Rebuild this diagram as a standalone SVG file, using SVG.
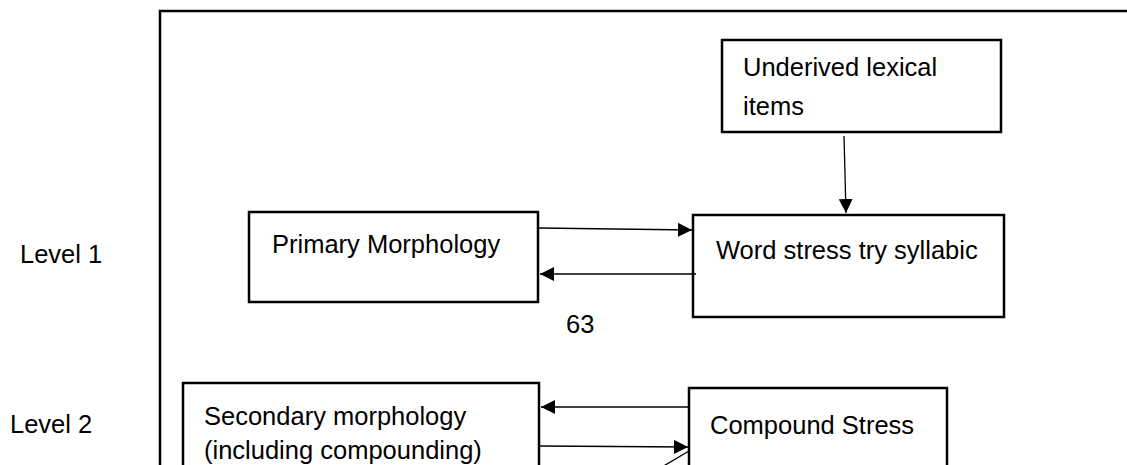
<svg xmlns="http://www.w3.org/2000/svg" width="1127" height="465" viewBox="0 0 1127 465">
<style>
.box{fill:#fff;stroke:#000;stroke-width:2.5}
.t{font-family:"Liberation Sans",Arial,sans-serif;font-size:25.5px;fill:#000}
.c{stroke:#000;stroke-width:1.3;fill:none}
</style>
<defs>
<marker id="ahb" viewBox="0 0 10 10" refX="10" refY="5" markerWidth="14" markerHeight="14" markerUnits="userSpaceOnUse" orient="auto">
<path d="M0,0 L10,5 L0,10 Z" fill="#000"/>
</marker>
</defs>
<rect width="1127" height="465" fill="#fff"/>
<g id="frame">
<path d="M160,470 L160,11 L1130,11" fill="none" stroke="#000" stroke-width="2.5"/>
</g>
<g id="labels">
<text class="t" x="20" y="263">Level 1</text>
<text class="t" x="10" y="433">Level 2</text>
<text class="t" x="566" y="333">63</text>
</g>
<g id="underived">
<rect class="box" x="722" y="40" width="279" height="92"/>
<text class="t" x="743" y="76">Underived lexical</text>
<text class="t" x="743" y="115">items</text>
</g>
<g id="primary">
<rect class="box" x="249" y="212" width="289" height="90"/>
<text class="t" x="272" y="253">Primary Morphology</text>
</g>
<g id="wordstress">
<rect class="box" x="693" y="215" width="311" height="102"/>
<text class="t" x="716" y="259">Word stress try syllabic</text>
</g>
<g id="secondary">
<rect class="box" x="183" y="383" width="356" height="100"/>
<text class="t" x="204" y="425">Secondary morphology</text>
<text class="t" x="204" y="459">(including compounding)</text>
</g>
<g id="compound">
<rect class="box" x="689" y="388" width="258" height="100"/>
<text class="t" x="710" y="434">Compound Stress</text>
</g>
<g id="connectors">
<line class="c" x1="844" y1="136" x2="846" y2="213" marker-end="url(#ahb)"/>
<line class="c" x1="539" y1="228" x2="692" y2="230" marker-end="url(#ahb)"/>
<line class="c" x1="696" y1="274" x2="540" y2="274" marker-end="url(#ahb)"/>
<line class="c" x1="689" y1="407" x2="541" y2="407" marker-end="url(#ahb)"/>
<line class="c" x1="540" y1="446" x2="688" y2="447" marker-end="url(#ahb)"/>
<line class="c" x1="689" y1="451" x2="650" y2="474"/>
</g>
</svg>
